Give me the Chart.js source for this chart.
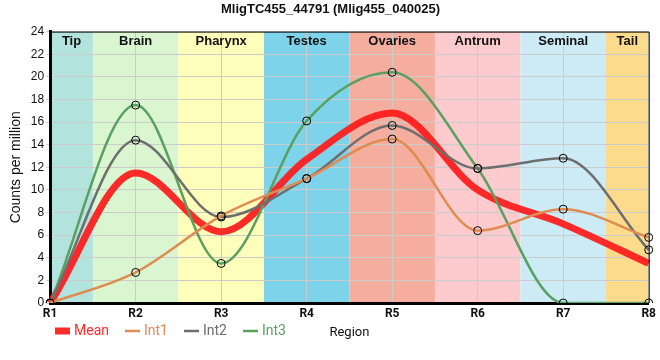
<!DOCTYPE html>
<html lang="en">
<head>
<meta charset="UTF-8">
<title>MligTC455_44791</title>
<script src="https://cdn.jsdelivr.net/npm/chart.js"></script>
<style>
  body { margin: 0; background: #fff; }
  .wrap { width: 660px; height: 360px; }
</style>
</head>
<body>
<div class="wrap"><canvas id="chart"></canvas></div>
<script>
// data
const regions = ['R1', 'R2', 'R3', 'R4', 'R5', 'R6', 'R7', 'R8'];
const bandNames = ['Tip', 'Brain', 'Pharynx', 'Testes', 'Ovaries', 'Antrum', 'Seminal', 'Tail'];
const bandColors = ['#b3e3dd', '#d9f6d1', '#ffffbb', '#7dd3ea', '#f5ad9e', '#fdcbcd', '#cdebf5', '#fddb8c'];
const meanValues = [0, 11.5, 6.3, 12.7, 16.8, 10.0, 7.0, 3.5];
const int1Values = [0, 2.7, 7.7, 11.0, 14.5, 6.4, 8.3, 5.8];
const int2Values = [0, 14.4, 7.6, 11.0, 15.7, 11.9, 12.8, 4.7];
const int3Values = [0, 17.5, 3.5, 16.1, 20.4, 11.9, 0, 0];

const bandPlugin = {
  id: 'bands',
  beforeDraw(chart) {
    const { ctx, chartArea, scales } = chart;
    const x = scales.x;
    const px = i => x.getPixelForTick(i);
    ctx.save();
    bandNames.forEach((name, i) => {
      const l = i === 0 ? chartArea.left : (px(i - 1) + px(i)) / 2;
      const r = i === bandNames.length - 1 ? chartArea.right : (px(i) + px(i + 1)) / 2;
      ctx.fillStyle = bandColors[i];
      ctx.fillRect(l, chartArea.top, r - l, chartArea.bottom - chartArea.top);
    });
    ctx.restore();
  },
  afterDatasetsDraw(chart) {
    const { ctx, chartArea, scales } = chart;
    const x = scales.x;
    const px = i => x.getPixelForTick(i);
    ctx.save();
    ctx.font = 'bold 13px "Liberation Sans", Arial, sans-serif';
    ctx.fillStyle = '#111';
    ctx.textAlign = 'center';
    ctx.textBaseline = 'middle';
    bandNames.forEach((name, i) => {
      const l = i === 0 ? chartArea.left : (px(i - 1) + px(i)) / 2;
      const r = i === bandNames.length - 1 ? chartArea.right : (px(i) + px(i + 1)) / 2;
      ctx.fillText(name, (l + r) / 2, chartArea.top + 10);
    });
    // thin frame top / right
    ctx.strokeStyle = '#000';
    ctx.lineWidth = 1;
    ctx.beginPath();
    ctx.moveTo(chartArea.left, chartArea.top + 0.5);
    ctx.lineTo(chartArea.right + 0.5, chartArea.top + 0.5);
    ctx.lineTo(chartArea.right + 0.5, chartArea.bottom);
    ctx.stroke();
    ctx.restore();
  }
};

// legend drawn on the same row as the x axis title
const legendPlugin = {
  id: 'rowLegend',
  afterDraw(chart) {
    const { ctx } = chart;
    const y = chart.scales.x.bottom - 10;
    let cx = 55;
    ctx.save();
    ctx.font = '14px Roboto, sans-serif';
    ctx.textBaseline = 'middle';
    chart.data.datasets.forEach(ds => {
      ctx.strokeStyle = ds.borderColor;
      ctx.lineWidth = ds.borderWidth;
      ctx.beginPath();
      ctx.moveTo(cx, y);
      ctx.lineTo(cx + 15, y);
      ctx.stroke();
      cx += 19;
      ctx.fillStyle = ds.borderColor;
      ctx.fillText(ds.label, cx, y);
      cx += ctx.measureText(ds.label).width + 16;
    });
    ctx.restore();
  }
};

function line(label, data, color, width, points) {
  return {
    label: label,
    data: data,
    borderColor: color,
    borderWidth: width,
    cubicInterpolationMode: 'monotone',
    pointRadius: points ? 4 : 0,
    pointBorderColor: '#000',
    pointBorderWidth: 1,
    pointBackgroundColor: 'rgba(0,0,0,0)',
    order: points ? 0 : 1
  };
}

new Chart(document.getElementById('chart'), {
  type: 'line',
  data: {
    labels: regions,
    datasets: [
      line('Mean', meanValues, 'rgba(255,25,25,0.92)', 7, false),
      line('Int1', int1Values, '#df8c52', 2.5, true),
      line('Int2', int2Values, '#6e6e6e', 2.5, true),
      line('Int3', int3Values, '#5aa062', 2.5, true)
    ]
  },
  options: {
    responsive: true,
    maintainAspectRatio: false,
    animation: false,
    layout: { padding: { left: 8, right: 7, top: 0, bottom: 19 } },
    plugins: {
      legend: { display: false },
      tooltip: { enabled: false },
      title: {
        display: true,
        text: 'MligTC455_44791 (Mlig455_040025)',
        color: '#111',
        font: { family: '"Liberation Sans", Arial, sans-serif', size: 13, weight: 'bold' },
        padding: { top: 2, bottom: 14 }
      }
    },
    scales: {
      x: {
        offset: false,
        grid: { color: '#cccccc', drawTicks: false },
        border: { color: '#000', width: 3 },
        ticks: {
          color: '#111',
          padding: 4,
          font: { family: 'Roboto, sans-serif', size: 12, weight: 'bold' }
        },
        title: {
          display: true,
          text: 'Region',
          color: '#111',
          font: { family: 'Roboto, sans-serif', size: 13 },
          padding: { top: 0, bottom: 0 }
        }
      },
      y: {
        min: 0,
        max: 24,
        grid: { color: '#cccccc', drawTicks: true, tickLength: 4 },
        border: { color: '#000', width: 3 },
        ticks: {
          stepSize: 2,
          color: '#111',
          padding: 2,
          font: { family: '"Liberation Sans", Arial, sans-serif', size: 12 }
        },
        title: {
          display: true,
          text: 'Counts per million',
          color: '#111',
          font: { family: '"Liberation Sans", Arial, sans-serif', size: 14 },
          padding: { top: 0, bottom: 4 }
        }
      }
    }
  },
  plugins: [bandPlugin, legendPlugin]
});
</script>
</body>
</html>
